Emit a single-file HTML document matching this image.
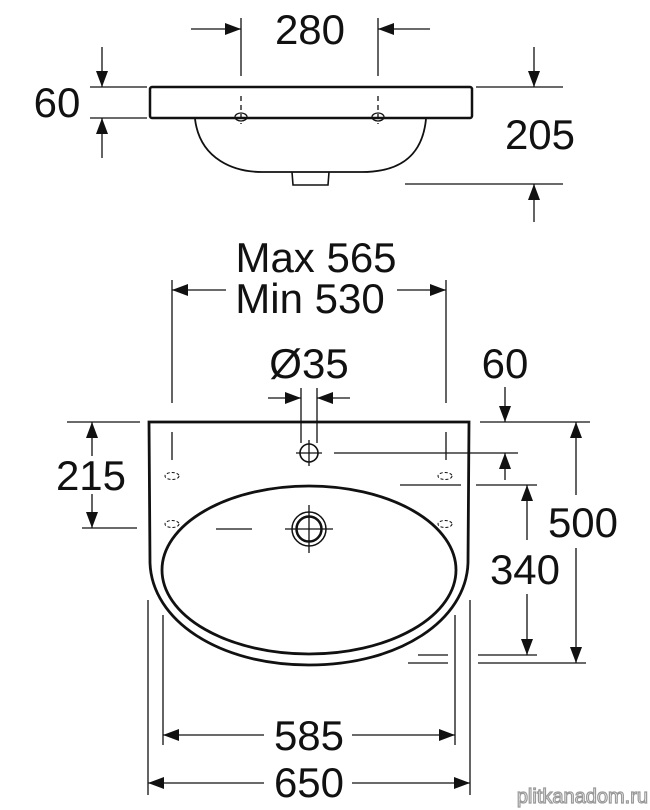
<!DOCTYPE html>
<html><head><meta charset="utf-8"><style>
html,body{margin:0;padding:0;background:#fff;}
svg{display:block;}
text{font-family:"Liberation Sans",Arial,sans-serif;font-size:42px;fill:#111;}
</style></head><body>
<svg width="650" height="810" viewBox="0 0 650 810" xmlns="http://www.w3.org/2000/svg">
<defs>
<marker id="a" viewBox="0 0 16 12" refX="16" refY="6" markerWidth="16" markerHeight="12" markerUnits="userSpaceOnUse" orient="auto"><path d="M0,0 L16,6 L0,12 Z" fill="#111"/></marker>
</defs>
<g stroke="#111" fill="none" stroke-width="1.3">
<!-- TOP VIEW -->
<rect x="150" y="87" width="322" height="31" rx="2" stroke-width="2.5"/>
<path d="M195,119 C200,160 235,172 262,172 L362,172 C395,172 422,160 426,119" stroke-width="1.8"/>
<path d="M292,172 L293,185 L328,185 L329,172" stroke-width="1.6"/>
<ellipse cx="241" cy="117" rx="6" ry="4"/>
<ellipse cx="378" cy="117" rx="6" ry="4"/>
<line x1="241" y1="18" x2="241" y2="76"/><line x1="241" y1="96" x2="241" y2="124" stroke-dasharray="5,4"/>
<line x1="378" y1="18" x2="378" y2="76"/><line x1="378" y1="96" x2="378" y2="124" stroke-dasharray="5,4"/>
<line x1="191" y1="29" x2="241" y2="29" marker-end="url(#a)"/>
<line x1="430" y1="29" x2="378" y2="29" marker-end="url(#a)"/>
<line x1="90" y1="87" x2="147" y2="87"/><line x1="90" y1="118" x2="147" y2="118"/>
<line x1="102" y1="47" x2="102" y2="87" marker-end="url(#a)"/>
<line x1="102" y1="158" x2="102" y2="118" marker-end="url(#a)"/>
<line x1="476" y1="87" x2="563" y2="87"/><line x1="405" y1="184" x2="563" y2="184"/>
<line x1="534" y1="47" x2="534" y2="87" marker-end="url(#a)"/>
<line x1="534" y1="222" x2="534" y2="184" marker-end="url(#a)"/>

<!-- FRONT VIEW -->
<path d="M149,422 L469,422 L468,563 C466,620 400,665 309,665 C218,665 152,620 150,563 Z" stroke-width="2.8"/>
<ellipse cx="309" cy="570" rx="147" ry="84" stroke-width="2.8"/>
<circle cx="309" cy="453" r="9" stroke-width="1.6"/>
<line x1="309" y1="440" x2="309" y2="466"/><line x1="296" y1="453" x2="322" y2="453"/>
<circle cx="309" cy="529" r="17" stroke-width="1.5"/>
<circle cx="309" cy="529" r="12.5" stroke-width="2.5"/>
<line x1="309" y1="505" x2="309" y2="553"/><line x1="285" y1="529" x2="333" y2="529"/>
<line x1="216" y1="529" x2="252" y2="529"/>
<g stroke-width="1">
<ellipse cx="172" cy="476" rx="7" ry="3.5" stroke-dasharray="3,2"/><ellipse cx="172" cy="524" rx="7" ry="3.5" stroke-dasharray="3,2"/>
<ellipse cx="445" cy="476" rx="7" ry="3.5" stroke-dasharray="3,2"/><ellipse cx="445" cy="524" rx="7" ry="3.5" stroke-dasharray="3,2"/>
</g>
<!-- Max/Min -->
<line x1="172" y1="280" x2="172" y2="403"/><line x1="172" y1="432" x2="172" y2="460"/>
<line x1="446" y1="280" x2="446" y2="403"/><line x1="446" y1="432" x2="446" y2="460"/>
<line x1="226" y1="290" x2="172" y2="290" marker-end="url(#a)"/>
<line x1="397" y1="290" x2="446" y2="290" marker-end="url(#a)"/>
<!-- Ø35 -->
<line x1="301" y1="388" x2="301" y2="443"/><line x1="317" y1="388" x2="317" y2="443"/>
<line x1="268" y1="398" x2="301" y2="398" marker-end="url(#a)"/>
<line x1="350" y1="398" x2="317" y2="398" marker-end="url(#a)"/>
<!-- 215 -->
<line x1="67" y1="422" x2="140" y2="422"/><line x1="82" y1="528" x2="137" y2="528"/>
<line x1="92" y1="456" x2="92" y2="422" marker-end="url(#a)"/>
<line x1="92" y1="494" x2="92" y2="528" marker-end="url(#a)"/>
<!-- right 60 -->
<line x1="480" y1="422" x2="590" y2="422"/>
<line x1="334" y1="453" x2="518" y2="453"/>
<line x1="505" y1="387" x2="505" y2="422" marker-end="url(#a)"/>
<line x1="505" y1="480" x2="505" y2="453" marker-end="url(#a)"/>
<!-- 340 -->
<line x1="400" y1="485" x2="461" y2="485"/><line x1="476" y1="485" x2="537" y2="485"/>
<line x1="418" y1="655" x2="448" y2="655"/><line x1="478" y1="655" x2="537" y2="655"/>
<line x1="527" y1="540" x2="527" y2="485" marker-end="url(#a)"/>
<line x1="527" y1="594" x2="527" y2="655" marker-end="url(#a)"/>
<!-- 500 -->
<line x1="408" y1="663" x2="448" y2="663"/><line x1="478" y1="663" x2="586" y2="663"/>
<line x1="576" y1="495" x2="576" y2="422" marker-end="url(#a)"/>
<line x1="576" y1="548" x2="576" y2="663" marker-end="url(#a)"/>
<!-- 585 / 650 -->
<line x1="163" y1="615" x2="163" y2="745"/><line x1="455" y1="615" x2="455" y2="745"/>
<line x1="148" y1="600" x2="148" y2="795"/><line x1="470" y1="600" x2="470" y2="795"/>
<line x1="264" y1="735" x2="163" y2="735" marker-end="url(#a)"/>
<line x1="352" y1="735" x2="455" y2="735" marker-end="url(#a)"/>
<line x1="264" y1="783" x2="148" y2="783" marker-end="url(#a)"/>
<line x1="352" y1="783" x2="470" y2="783" marker-end="url(#a)"/>
</g>
<text x="310" y="44" text-anchor="middle">280</text>
<text x="57" y="117" text-anchor="middle">60</text>
<text x="540" y="149" text-anchor="middle">205</text>
<text x="316" y="272" text-anchor="middle">Max 565</text>
<text x="310" y="313" text-anchor="middle">Min 530</text>
<text x="309" y="378" text-anchor="middle">Ø35</text>
<text x="505" y="378" text-anchor="middle">60</text>
<text x="91" y="490" text-anchor="middle">215</text>
<text x="583" y="537" text-anchor="middle">500</text>
<text x="525" y="584" text-anchor="middle">340</text>
<text x="309" y="750" text-anchor="middle">585</text>
<text x="309" y="797" text-anchor="middle">650</text>
<text x="648" y="803" text-anchor="end" style="font-size:20px;fill:#fff;stroke:#999;stroke-width:1.2">plitkanadom.ru</text>
</svg>
</body></html>
